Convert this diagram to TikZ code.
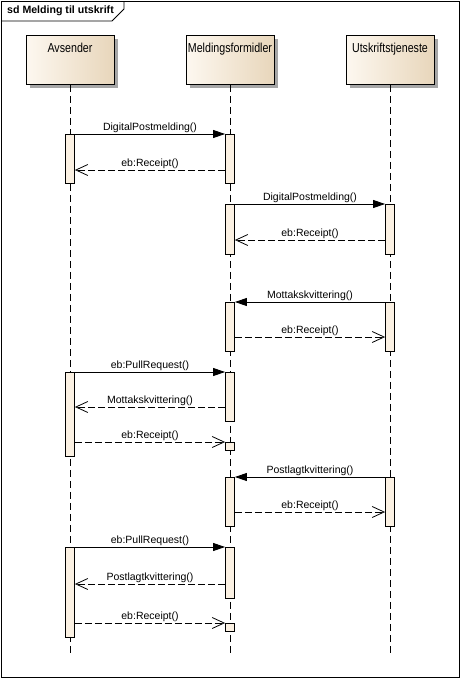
\documentclass[tikz,border=0pt]{standalone}
\usepackage{fontspec}
\setmainfont{Liberation Sans}
\newfontfamily\hodefont[FakeStretch=0.82]{Liberation Sans}
\usetikzlibrary{arrows.meta,shadows}

\definecolor{hodeL}{HTML}{FDF8F0}
\definecolor{hodeR}{HTML}{E8D6BB}
\definecolor{aktiv}{HTML}{FBF1E3}

\begin{document}
\begin{tikzpicture}[x=1pt,y=-1pt,
    hode/.style={draw, line width=0.8pt, left color=hodeL, right color=hodeR,
        minimum width=88pt, minimum height=49pt, inner sep=0pt,
        text height=17pt, text depth=32pt, anchor=north,
        font=\hodefont\fontsize{13}{15}\selectfont,
        drop shadow={shadow xshift=4pt, shadow yshift=-4pt, fill=black!35, opacity=1}},
    livslinje/.style={line width=0.8pt, dash pattern=on 7pt off 4pt},
    akt/.style={draw, fill=aktiv, line width=0.8pt, minimum width=9pt,
        inner sep=0pt, anchor=north},
    kall/.style={line width=0.8pt, -{Triangle[length=12pt,width=8pt]}},
    svar/.style={line width=0.8pt, dash pattern=on 7pt off 3pt,
        -{Straight Barb[length=12pt,width=11pt]}},
    tekst/.style={midway, anchor=base, yshift=4pt, inner sep=0pt,
        font=\fontsize{10.5}{12}\selectfont}]

    \useasboundingbox (0,0) rectangle (460,678);

    % Ramme og tittel
    \draw[line width=0.9pt] (1,1) rectangle (459,677);
    \draw[line width=0.9pt] (1,21) -- (112,21) -- (124,9) -- (124,1);
    \node[anchor=west, inner sep=0pt, font=\bfseries\fontsize{10.6}{12}\selectfont] (tittel) at (7,11) {sd Melding til utskrift};

    % Livslinjer
    \node[hode] (avs) at (70,35) {Avsender};
    \node[hode] (mf) at (230,35) {Meldingsformidler};
    \node[hode] (ut) at (390,35) {Utskriftstjeneste};
    \coordinate (bunn) at (0,653);
    \foreach \l in {avs,mf,ut}
        \draw[livslinje] (\l.south) -- (\l.south |- bunn);

    % Aktiveringer
    \node[akt, minimum height=49pt] (a1) at (70,134) {};
    \node[akt, minimum height=49pt] (m1) at (230,134) {};
    \node[akt, minimum height=50pt] (m2) at (230,204) {};
    \node[akt, minimum height=50pt] (u2) at (390,204) {};
    \node[akt, minimum height=49pt] (m3) at (230,302) {};
    \node[akt, minimum height=49pt] (u3) at (390,302) {};
    \node[akt, minimum height=84pt] (a4) at (70,372) {};
    \node[akt, minimum height=49pt] (m4) at (230,372) {};
    \node[akt, minimum height=8pt] (m5) at (230,442) {};
    \node[akt, minimum height=49pt] (m6) at (230,477) {};
    \node[akt, minimum height=49pt] (u6) at (390,477) {};
    \node[akt, minimum height=90pt] (a7) at (70,547) {};
    \node[akt, minimum height=51pt] (m7) at (230,547) {};
    \node[akt, minimum height=8pt] (m8) at (230,623) {};

    % Meldinger
    \draw[kall] (a1.north east) -- (m1.north west) node[tekst] {DigitalPostmelding()};
    \draw[svar] ([yshift=-36pt]m1.north west) -- ([yshift=-36pt]a1.north east) node[tekst] {eb:Receipt()};
    \draw[kall] (m2.north east) -- (u2.north west) node[tekst] {DigitalPostmelding()};
    \draw[svar] ([yshift=-36pt]u2.north west) -- ([yshift=-36pt]m2.north east) node[tekst] {eb:Receipt()};
    \draw[kall] (u3.north west) -- (m3.north east) node[tekst] {Mottakskvittering()};
    \draw[svar] ([yshift=-35pt]m3.north east) -- ([yshift=-35pt]u3.north west) node[tekst] {eb:Receipt()};
    \draw[kall] (a4.north east) -- (m4.north west) node[tekst] {eb:PullRequest()};
    \draw[svar] ([yshift=-35pt]m4.north west) -- ([yshift=-35pt]a4.north east) node[tekst] {Mottakskvittering()};
    \draw[svar] ([yshift=-70pt]a4.north east) -- (m5.north west) node[tekst] {eb:Receipt()};
    \draw[kall] (u6.north west) -- (m6.north east) node[tekst] {Postlagtkvittering()};
    \draw[svar] ([yshift=-35pt]m6.north east) -- ([yshift=-35pt]u6.north west) node[tekst] {eb:Receipt()};
    \draw[kall] (a7.north east) -- (m7.north west) node[tekst] {eb:PullRequest()};
    \draw[svar] ([yshift=-37pt]m7.north west) -- ([yshift=-37pt]a7.north east) node[tekst] {Postlagtkvittering()};
    \draw[svar] ([yshift=-76pt]a7.north east) -- (m8.north west) node[tekst] {eb:Receipt()};
\end{tikzpicture}
\end{document}
